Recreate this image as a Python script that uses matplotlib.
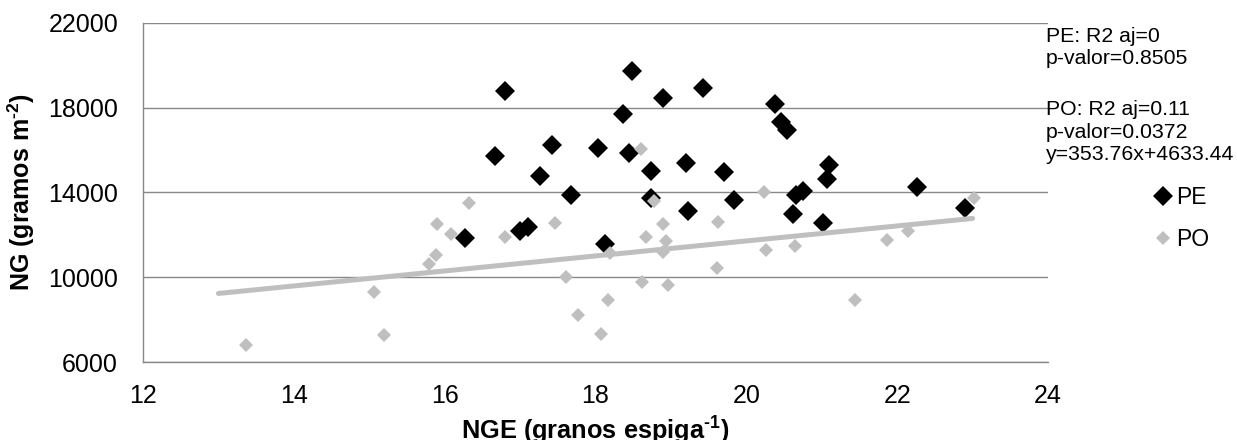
import matplotlib

matplotlib.use("Agg")
import matplotlib.pyplot as plt
from matplotlib.lines import Line2D

plt.rcParams["font.family"] = ["Liberation Sans", "DejaVu Sans"]
plt.rcParams["mathtext.fontset"] = "custom"
plt.rcParams["mathtext.rm"] = "Liberation Sans"
plt.rcParams["mathtext.bf"] = "Liberation Sans:bold"

# Granos por espiga (NGE) vs granos por m2 (NG)
pe_nge = [16.27, 16.67, 16.80, 17.00, 17.10, 17.27, 17.42, 17.68, 18.03, 18.12,
          18.37, 18.45, 18.49, 18.73, 18.74, 18.90, 19.20, 19.23, 19.42, 19.71,
          19.83, 20.38, 20.46, 20.54, 20.62, 20.66, 20.75, 21.01, 21.07, 21.09,
          22.26, 22.90]
pe_ng = [11850, 15700, 18800, 12200, 12350, 14750, 16230, 13880, 16080, 11550,
         17680, 15870, 19740, 13750, 15020, 18440, 15370, 13140, 18900, 14975,
         13640, 18170, 17330, 16940, 12970, 13880, 14060, 12570, 14620, 15290,
         14240, 13280]

po_nge = [13.37, 15.06, 15.20, 15.79, 15.88, 15.90, 16.09, 16.32, 16.80, 17.46,
          17.61, 17.77, 18.07, 18.16, 18.19, 18.60, 18.61, 18.67, 18.78, 18.90,
          18.90, 18.94, 18.96, 19.61, 19.63, 20.23, 20.26, 20.65, 21.44, 21.86,
          22.14, 23.02]
po_ng = [6800, 9300, 7280, 10600, 11050, 12500, 12020, 13480, 11880, 12570,
         10000, 8220, 7310, 8930, 11130, 16050, 9760, 11880, 13590, 12510,
         11180, 11720, 9630, 10420, 12590, 14000, 11280, 11490, 8930, 11750,
         12180, 13750]

# Ajuste lineal de PO
po_slope = 353.76
po_intercept = 4633.44
po_fit_range = [13.0, 23.0]

pe_stats = ["PE: R2 aj=0", "p-valor=0.8505"]
po_stats = ["PO: R2 aj=0.11", "p-valor=0.0372", "y=353.76x+4633.44"]

x_ticks = [12, 14, 16, 18, 20, 22, 24]
y_ticks = [6000, 10000, 14000, 18000, 22000]

BLACK = "#000000"
GREY = "#BFBFBF"
GRID = "#888888"

W, H = 1237, 440
fig = plt.figure(figsize=(W / 100, H / 100), dpi=100)
ax = fig.add_axes([143 / W, 1 - 362 / H, (1048 - 143) / W, (362 - 22.7) / H])

ax.plot(pe_nge, pe_ng, linestyle="none", marker="D", markersize=10.2,
        markeredgewidth=0, color=BLACK, zorder=3, label="PE")
ax.plot(po_nge, po_ng, linestyle="none", marker="D", markersize=7.4,
        markeredgewidth=0, color=GREY, zorder=4, label="PO")

fit_y = [po_slope * x + po_intercept for x in po_fit_range]
ax.plot(po_fit_range, fit_y, color=GREY, linewidth=3.6,
        solid_capstyle="round", zorder=5)

ax.set_xlim(x_ticks[0], x_ticks[-1])
ax.set_ylim(y_ticks[0], y_ticks[-1])
ax.set_xticks(x_ticks)
ax.set_yticks(y_ticks)
ax.tick_params(axis="both", length=0, labelsize=18, colors="black")
ax.tick_params(axis="x", pad=16)
ax.tick_params(axis="y", pad=18)

ax.grid(axis="y", color=GRID, linewidth=1.0)
ax.set_axisbelow(True)
for side in ["top", "right"]:
    ax.spines[side].set_visible(False)
for side in ["left", "bottom"]:
    ax.spines[side].set_color(GRID)
    ax.spines[side].set_linewidth(1.0)

ax.set_xlabel("NGE (granos espiga$^{\\mathbf{\u2010 1}}$)", fontsize=18.3,
              fontweight="bold", labelpad=5)
ax.set_ylabel("NG (gramos m$^{\\mathbf{\u2010 2}}$)", fontsize=18,
              fontweight="bold", labelpad=8)

# Estadísticos de la regresión
for i, line in enumerate(pe_stats):
    fig.text(1046 / W, 1 - (42 + 22.5 * i) / H, line, fontsize=15.3,
             va="baseline", ha="left")
for i, line in enumerate(po_stats):
    fig.text(1046 / W, 1 - (115 + 22.5 * i) / H, line, fontsize=15.3,
             va="baseline", ha="left")

handles = [
    Line2D([], [], linestyle="none", marker="D", markersize=10.2,
           markeredgewidth=0, color=BLACK),
    Line2D([], [], linestyle="none", marker="D", markersize=7.4,
           markeredgewidth=0, color=GREY),
]
fig.legend(handles, ["PE", "PO"], loc="center left",
           bbox_to_anchor=(1152 / W, 1 - 218.5 / H), frameon=False,
           fontsize=16.5, handlelength=1.0, handletextpad=0.05,
           labelspacing=0.85, borderpad=0, borderaxespad=0)

fig.savefig("out.png", dpi=100)
